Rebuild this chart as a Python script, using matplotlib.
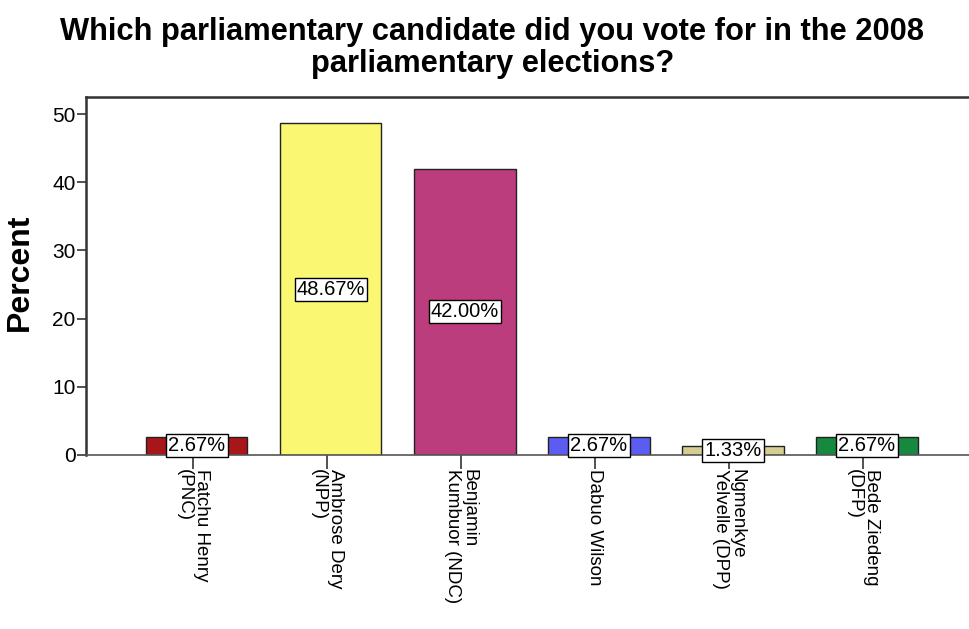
import matplotlib
matplotlib.use("Agg")
import matplotlib.pyplot as plt

categories = ["Fatchu Henry\n(PNC)", "Ambrose Dery\n(NPP)", "Benjamin\nKumbuor (NDC)",
              "Dabuo Wilson", "Ngmenkye\nYelvelle (DPP)", "Bede Ziedeng\n(DFP)"]
percents = [2.67, 48.67, 42.00, 2.67, 1.33, 2.67]
bar_labels = ["2.67%", "48.67%", "42.00%", "2.67%", "1.33%", "2.67%"]
colors = ["#A8161A", "#FAF772", "#BB3D7D", "#5C5CF2", "#D6CD93", "#17893F"]
yticks = [0, 10, 20, 30, 40, 50]
title = "Which parliamentary candidate did you vote for in the 2008\nparliamentary elections?"

plt.rcParams['font.family'] = ['Liberation Sans', 'DejaVu Sans']

W, H = 969, 629
fig = plt.figure(figsize=(W / 100, H / 100), dpi=100)
left, right, top, bottom = 86, 969, 97, 455
ax = fig.add_axes([left / W, (H - bottom) / H, (right - left) / W, (bottom - top) / H])

x = list(range(len(categories)))
ax.bar(x, percents, width=0.754, color=colors, edgecolor="#222222", linewidth=1.0, zorder=2)

for xi, v, lab in zip(x, percents, bar_labels):
    ax.text(xi, v / 2, lab, ha="center", va="center", fontsize=14.5, zorder=4,
            bbox=dict(boxstyle="square,pad=0.1", facecolor="white", edgecolor="black", linewidth=1.0))

ax.set_xlim(-0.828, 5.761)
ax.set_ylim(0, 52.5)
ax.set_yticks(yticks)
ax.set_yticklabels([str(t) for t in yticks], fontsize=15)
ax.set_xticks([xi - 0.03 for xi in x])
ax.set_xticklabels(categories, rotation=270, fontsize=13.5, ha="center", va="top",
                   multialignment="left", linespacing=0.95)
ax.tick_params(axis="y", length=6.5, width=1.2, pad=1, color="#333333")
ax.tick_params(axis="x", length=10, width=1.2, pad=0, color="#333333")

for s in ["left", "top"]:
    ax.spines[s].set_linewidth(1.8)
    ax.spines[s].set_color("#333333")
ax.spines["bottom"].set_linewidth(1.2)
ax.spines["bottom"].set_color("#555555")
ax.spines["right"].set_visible(False)

ax.set_ylabel("Percent", fontsize=23, fontweight="bold")
ax.yaxis.set_label_coords(-(86 - 35) / (right - left), 0.51)

fig.text(0.508, 1 - 17 / H, title, ha="center", va="top", fontsize=22.2, fontweight="bold",
         linespacing=1.08)

fig.savefig("out.png", dpi=100)
